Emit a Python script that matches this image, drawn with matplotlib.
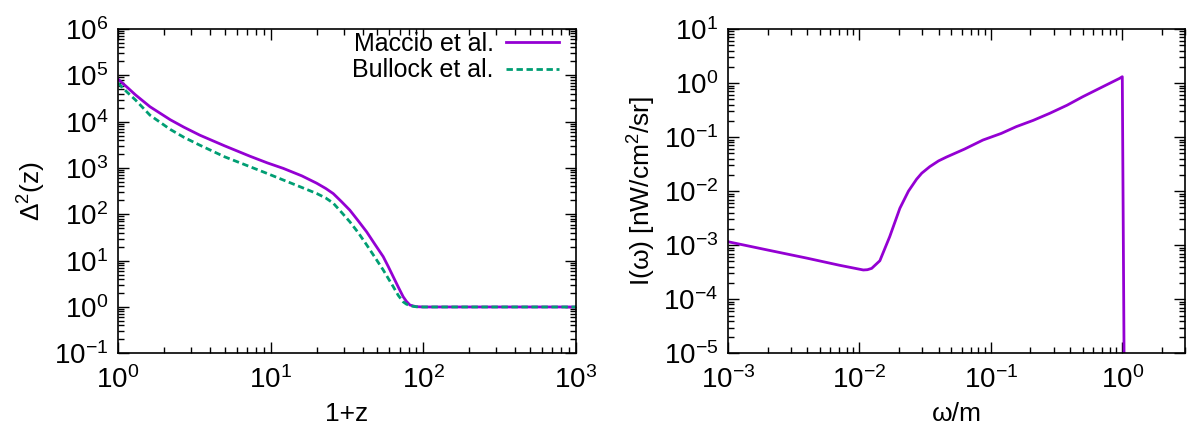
import numpy as np
import matplotlib
matplotlib.use("Agg")
import matplotlib.pyplot as plt
from matplotlib.ticker import LogLocator, LogFormatterSciNotation, NullFormatter

plt.rcParams['font.family'] = ['Liberation Sans', 'DejaVu Sans']
plt.rcParams['mathtext.fontset'] = 'custom'
plt.rcParams['mathtext.rm'] = 'Liberation Sans'
plt.rcParams['mathtext.it'] = 'Liberation Sans:italic'
plt.rcParams['mathtext.default'] = 'regular'

# linkes Bild: Delta^2(z)
z1 = [1, 1.15, 1.3, 1.62, 2.2, 2.7, 3.44, 5, 7.3, 9.5, 12.1, 16, 20, 23, 25.7,
      29, 33, 37.5, 42.5, 48, 54.6, 59, 63.5, 68.5, 73.8, 77.5, 81.7, 86, 90,
      100, 1000]
maccio = [8.3e4, 5.5e4, 3.8e4, 2.1e4, 1.1e4, 7.6e3, 5.1e3, 3.0e3, 1.8e3,
          1.29e3, 980, 676, 470, 360, 280, 190, 123, 72, 42, 22.9, 12.2, 7.4,
          4.5, 2.7, 1.66, 1.32, 1.10, 1.05, 1.015, 1.0, 1.0]
bullock = [6.8e4, 4.3e4, 2.95e4, 1.38e4, 6.8e3, 4.6e3, 3.1e3, 1.74e3, 1.07e3,
           760, 550, 380, 282, 224, 174, 112, 69, 40, 22, 12.0, 6.3, 4.1,
           2.75, 1.78, 1.29, 1.15, 1.07, 1.03, 1.01, 1.0, 1.0]

# rechtes Bild: I(omega)
omega = [1e-3, 2e-3, 4e-3, 7e-3, 0.0107, 0.0115, 0.0124, 0.0143, 0.0170,
         0.0203, 0.0236, 0.0272, 0.0298, 0.0343, 0.040, 0.0459, 0.063, 0.0871,
         0.12, 0.156, 0.21, 0.28, 0.38, 0.5, 0.7, 0.953, 1.0, 1.05]
intens = [1.16e-3, 8.15e-4, 5.75e-4, 4.27e-4, 3.48e-4, 3.52e-4, 3.73e-4,
          5.16e-4, 1.44e-3, 4.81e-3, 1.0e-2, 1.66e-2, 2.15e-2, 2.84e-2,
          3.63e-2, 4.27e-2, 6.0e-2, 8.83e-2, 0.117, 0.156, 0.204, 0.275,
          0.389, 0.558, 0.84, 1.22, 1.31, 1e-8]

purple = '#9400d3'
green = '#009e73'

W, H = 1188, 434
fig = plt.figure(figsize=(W / 100, H / 100), dpi=100)
ax1 = fig.add_axes([118 / W, 1 - 353.3 / H, (576 - 118) / W, (353.3 - 29) / H])
ax2 = fig.add_axes([728 / W, 1 - 353.3 / H, (1185 - 728) / W, (353.3 - 29) / H])


def style(ax):
    ax.set_xscale('log')
    ax.set_yscale('log')
    for a in (ax.xaxis, ax.yaxis):
        a.set_major_locator(LogLocator(base=10, numticks=20))
        a.set_minor_locator(LogLocator(base=10, subs=np.arange(2, 10), numticks=20))
        a.set_major_formatter(LogFormatterSciNotation())
        a.set_minor_formatter(NullFormatter())
    ax.tick_params(which='both', direction='in', top=True, right=True,
                   labelsize=20, width=1)
    ax.tick_params(which='major', length=8)
    ax.tick_params(which='minor', length=4)
    ax.tick_params(axis='x', pad=9)
    ax.tick_params(axis='y', pad=7)
    for s in ax.spines.values():
        s.set_linewidth(1.2)


ax1.plot(z1, maccio, color=purple, lw=2, label='Maccio et al.')
ax1.plot(z1, bullock, color=green, lw=2, ls=(0, (2.3, 1.3)), label='Bullock et al.')
style(ax1)
ax1.set_xlim(1, 1000)
ax1.set_ylim(1e-1, 1e6)
ax1.set_xlabel('1+z', fontsize=19, labelpad=6)
ax1.set_ylabel(r'Δ$^2$(z)', fontsize=19, labelpad=4)
ax1.legend(loc='upper right', frameon=False, markerfirst=False, fontsize=18,
           handlelength=2.1, handletextpad=0.5, labelspacing=0.1,
           borderaxespad=0.3, bbox_to_anchor=(1.0, 1.045))

ax2.plot(omega, intens, color=purple, lw=2)
style(ax2)
ax2.set_xlim(1e-3, 3)
ax2.set_ylim(1e-5, 10)
ax2.set_xlabel('ω/m', fontsize=19, labelpad=6)
ax2.set_ylabel(r'I(ω) [nW/cm$^2$/sr]', fontsize=19, labelpad=4)

fig.savefig('out.png', dpi=100)
